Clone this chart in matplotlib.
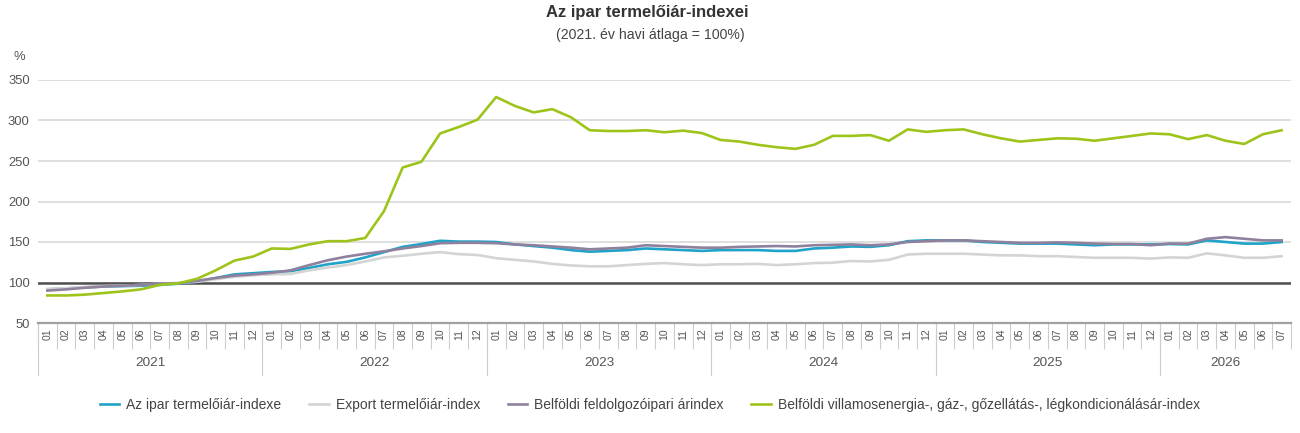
import matplotlib
matplotlib.use("Agg")
import matplotlib.pyplot as plt
import matplotlib.transforms as mtransforms

plt.rcParams['font.family'] = ['Liberation Sans', 'DejaVu Sans']

# data (2021. év havi átlaga = 100%)
years = ["2021", "2022", "2023", "2024", "2025", "2026"]
months_per_year = [12, 12, 12, 12, 12, 7]

ipar = [91.5, 92.7, 94, 95, 95.5, 96, 97, 98.5, 101, 105.5, 110, 111.5,
        113, 114, 118, 122.5, 125.5, 131, 137.5, 144, 147.5, 151.5, 150.5, 150.5,
        150, 147, 145, 143, 140, 138, 139, 140, 142, 141, 140, 139,
        140, 140, 140, 139, 139, 142, 143, 144.5, 144, 146, 151, 152,
        152, 152, 150, 149, 148, 148, 148, 147, 146, 147, 147, 147,
        147.5, 147, 152, 150, 148, 148, 150]

export = [92, 93, 94.5, 95.5, 96, 97, 98.5, 99.5, 101, 104, 107, 109,
          110, 110.5, 115, 118.5, 121.5, 126, 131, 133, 135.5, 137.5, 135, 134,
          130, 128, 126, 123, 121, 120, 120, 121.5, 123, 124, 122.5, 121.5,
          122.5, 122.5, 123, 121.5, 122.5, 124, 124.5, 126.5, 126, 128, 134.5, 135.5,
          135.5, 135.5, 134.5, 133.5, 133.5, 132.5, 132.5, 131.5, 130.5, 130.5, 130.5, 129.5,
          131, 130.5, 136, 133.5, 130.5, 130.5, 132.5]

feldolgozo = [90, 91.5, 93.5, 95, 96, 97, 98.5, 99, 102, 105.5, 108.5, 110,
              112, 115, 121.5, 127.5, 132, 135.5, 138.5, 142, 145, 148.5, 149, 149,
              148.5, 147, 146, 144.5, 143, 141, 142, 143, 146, 145, 144, 143,
              143, 144, 144.5, 145, 144.5, 146, 146.5, 147, 146, 147, 150, 151,
              152, 152, 151, 150, 149, 149, 149.5, 149, 148, 147.5, 147.5, 146,
              148, 148, 154, 156, 154, 152, 152]

villamos = [84, 84, 85, 87, 89, 91.5, 97, 99, 104.5, 115, 127, 132,
            142, 141.5, 147, 151, 151, 155, 188, 242, 249, 284, 292, 301,
            329, 318, 310, 314, 304, 288, 287, 287, 288, 285.5, 287.5, 284.5,
            276, 274, 270, 267, 265, 270, 281, 281, 282, 275, 289, 286,
            288, 289, 283, 278, 274, 276, 278, 277.5, 275, 278, 281, 284,
            283, 277, 282, 275, 271, 283, 288]

series = [
    ("Az ipar termelőiár-indexe", ipar, "#1fa3c8"),
    ("Export termelőiár-index", export, "#d4d4d4"),
    ("Belföldi feldolgozóipari árindex", feldolgozo, "#8f819d"),
    ("Belföldi villamosenergia-, gáz-, gőzellátás-, légkondicionálásár-index", villamos, "#9dc41a"),
]

month_labels = []
for n in months_per_year:
    month_labels += ["%02d" % (m + 1) for m in range(n)]
x = list(range(len(month_labels)))

fig = plt.figure(figsize=(13, 4.33), dpi=100)
ax = fig.add_axes([38 / 1300, 1 - 323 / 433, (1291 - 38) / 1300, (323 - 80) / 433])

for name, vals, col in series:
    ax.plot(x, vals, color=col, lw=1.9, label=name, solid_joinstyle='round', zorder=3)

ax.set_xlim(-0.5, len(x) - 0.5)
ax.set_ylim(50, 350)
ax.set_yticks(range(50, 351, 50))
ax.grid(axis='y', color='#d9d9d9', lw=1.2, zorder=0)
ax.axhline(100, color='#505050', lw=1.8, zorder=2)

for s in ['top', 'right', 'left']:
    ax.spines[s].set_visible(False)
ax.spines['bottom'].set_color('#a0a0a0')
ax.spines['bottom'].set_linewidth(1.6)

ax.tick_params(axis='y', length=0, pad=6, labelsize=9.4, labelcolor='#555555')
ax.set_xticks(x)
ax.set_xticklabels(month_labels, rotation=90, fontsize=7.5, color='#555555')
ax.tick_params(axis='x', which='major', length=0, pad=4)
ax.set_xticks([i - 0.5 for i in range(len(x) + 1)], minor=True)
ax.tick_params(axis='x', which='minor', length=19, width=0.8, color='#cccccc', direction='out')

# year separators and labels
trans = mtransforms.blended_transform_factory(ax.transData, ax.transAxes)
start = 0
for yr, n in zip(years, months_per_year):
    ax.plot([start - 0.5, start - 0.5], [0, -0.215], transform=trans, color='#cccccc',
            lw=0.8, clip_on=False)
    ax.text(start + (n - 1) / 2, -0.165, yr, transform=trans, ha='center', va='center',
            fontsize=9.7, color='#555555')
    start += n

fig.text(13 / 1300, 1 - 57 / 433, "%", fontsize=9.4, color='#555555', ha='left', va='center')
fig.text(0.498, 1 - 12 / 433, "Az ipar termelőiár-indexei", fontsize=12, fontweight='bold',
         color='#333333', ha='center', va='center')
fig.text(0.5, 1 - 35 / 433, "(2021. év havi átlaga = 100%)", fontsize=10.2, color='#444444',
         ha='center', va='center')

leg = fig.legend(loc='center', bbox_to_anchor=(650 / 1300, 1 - 405 / 433), ncol=4, frameon=False,
                 fontsize=10, handlelength=1.4, handletextpad=0.5, columnspacing=2.0)
for t in leg.get_texts():
    t.set_color('#444444')

fig.savefig("out.png", dpi=100)
